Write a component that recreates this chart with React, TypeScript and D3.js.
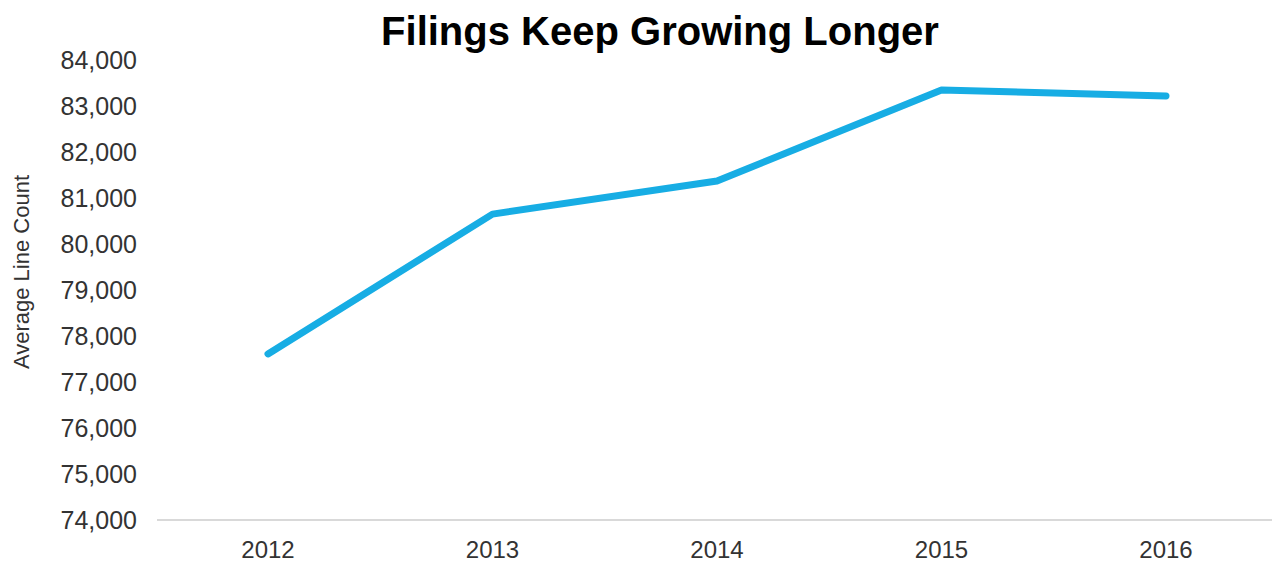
import React from "react";
import * as d3 from "d3";

const years = ["2012", "2013", "2014", "2015", "2016"];
const lineCounts = [77610, 80650, 81370, 83350, 83220];
const yTicks = [74000, 75000, 76000, 77000, 78000, 79000, 80000, 81000, 82000, 83000, 84000];
const title = "Filings Keep Growing Longer";
const yTitle = "Average Line Count";

export default function App() {
  const W = 1275, H = 562;
  const x = d3.scalePoint<string>().domain(years).range([268, 1166]);
  const y = d3.scaleLinear().domain([74000, 84000]).range([520, 60]);
  const fmt = d3.format(",");
  const line = d3.line<number>().x((_, i) => x(years[i]) as number).y((d) => y(d));
  const font = "'Liberation Sans', Arial, sans-serif";
  return (
    <svg width={W} height={H} style={{ position: "absolute", left: 0, top: 0, background: "#fff" }}>
      <text x={660} y={45} textAnchor="middle" fontFamily={font} fontWeight="bold" fontSize={40} fill="#000">{title}</text>
      <text transform={`translate(29,272) rotate(-90)`} textAnchor="middle" fontFamily={font} fontSize={22} fill="#333">{yTitle}</text>
      {yTicks.map((t) => (
        <text key={t} x={137} y={y(t)} dy="0.35em" textAnchor="end" fontFamily={font} fontSize={25} fill="#333">{fmt(t)}</text>
      ))}
      <line x1={157} x2={1272} y1={y(74000)} y2={y(74000)} stroke="#d9d9d9" strokeWidth={2} />
      {years.map((yr) => (
        <text key={yr} x={x(yr)} y={558} textAnchor="middle" fontFamily={font} fontSize={24} fill="#333">{yr}</text>
      ))}
      <path d={line(lineCounts) || ""} fill="none" stroke="#17ADE4" strokeWidth={7} strokeLinecap="round" strokeLinejoin="round" />
    </svg>
  );
}
